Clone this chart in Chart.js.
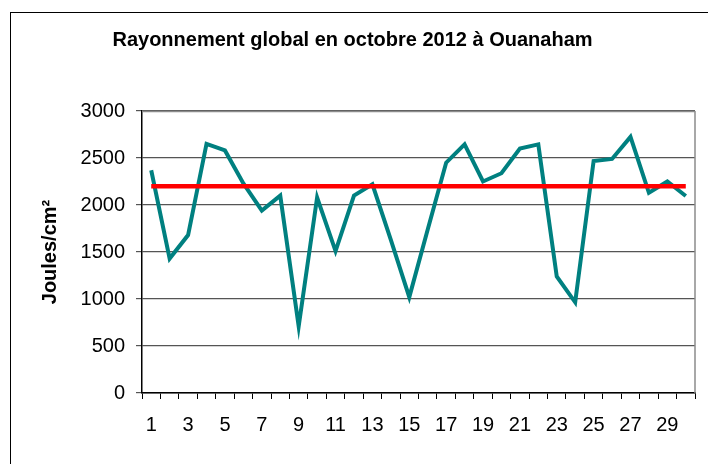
<!DOCTYPE html>
<html>
<head>
<meta charset="utf-8">
<script src="https://cdn.jsdelivr.net/npm/chart.js@4/dist/chart.umd.min.js"></script>
<style>
  body { margin: 0; background: #fff; }
  canvas { display: block; }
</style>
</head>
<body>
<canvas id="myChart" width="708" height="464"></canvas>
<script>
// jours d'octobre 2012
const jours = ['1','2','3','4','5','6','7','8','9','10','11','12','13','14','15',
               '16','17','18','19','20','21','22','23','24','25','26','27','28','29','30'];
// rayonnement global journalier (Joules/cm²)
const rayonnement = [2370, 1430, 1680, 2650, 2580, 2230, 1940, 2100, 710, 2080,
                     1510, 2100, 2220, 1630, 1020, 1740, 2450, 2645, 2250, 2338,
                     2600, 2645, 1240, 965, 2468, 2490, 2725, 2130, 2250, 2096];
// valeur de référence (ligne rouge)
const reference = jours.map(() => 2200);
const yTicks = [0, 500, 1000, 1500, 2000, 2500, 3000];

const fontFamily = '"Liberation Sans", Arial, sans-serif';

// cadre extérieur + bord droit de la zone de tracé
const framePlugin = {
    id: 'frame',
    beforeDraw(chart) {
        const c = chart.ctx;
        c.save();
        c.fillStyle = '#fff';
        c.fillRect(0, 0, chart.width, chart.height);
        c.strokeStyle = '#000';
        c.lineWidth = 1;
        c.strokeRect(10.5, 12.5, 760, 500);
        c.restore();
    },
    beforeDatasetsDraw(chart) {
        const a = chart.chartArea;
        const c = chart.ctx;
        c.save();
        c.strokeStyle = '#8c8c8c';
        c.lineWidth = 1.5;
        c.beginPath();
        c.moveTo(a.left, a.top + 0.5);
        c.lineTo(a.right, a.top + 0.5);
        c.moveTo(a.right, a.top);
        c.lineTo(a.right, a.bottom);
        c.stroke();
        c.restore();
    }
};

const ctx = document.getElementById('myChart').getContext('2d');
const myChart = new Chart(ctx, {
    type: 'line',
    data: {
        labels: jours,
        datasets: [{
            label: 'Référence',
            data: reference,
            borderColor: '#ff0000',
            borderWidth: 4.5,
            pointRadius: 0,
            tension: 0
        },
        {
            label: 'Rayonnement global',
            data: rayonnement,
            borderColor: '#008080',
            borderWidth: 4,
            pointRadius: 0,
            tension: 0
        }]
    },
    options: {
        responsive: false,
        animation: false,
        layout: {
            padding: { top: 12, left: 10, right: 13, bottom: 0 }
        },
        plugins: {
            legend: { display: false },
            tooltip: { enabled: false },
            title: {
                display: true,
                text: 'Rayonnement global en octobre 2012 à Ouanaham',
                color: '#000',
                font: { family: fontFamily, size: 20, weight: 'bold' },
                padding: { top: 16, bottom: 59 }
            }
        },
        scales: {
            x: {
                offset: true,
                grid: {
                    offset: true,
                    drawOnChartArea: false,
                    drawTicks: true,
                    tickLength: 6,
                    color: '#000'
                },
                border: { color: '#000', width: 1.5 },
                ticks: {
                    autoSkip: false,
                    maxRotation: 0,
                    padding: 14,
                    color: '#000',
                    font: { family: fontFamily, size: 20 },
                    callback: function(val, idx) {
                        return idx % 2 === 0 ? this.getLabelForValue(val) : '';
                    }
                },
                afterFit(axis) { axis.height = 71; }
            },
            y: {
                min: 0,
                max: 3000,
                afterBuildTicks(axis) {
                    axis.ticks = yTicks.map(v => ({ value: v }));
                },
                grid: {
                    color: '#555',
                    lineWidth: 1.2,
                    tickLength: 6
                },
                border: { color: '#000', width: 1.5 },
                ticks: {
                    padding: 11,
                    color: '#000',
                    font: { family: fontFamily, size: 20 },
                    callback: v => String(v)
                },
                title: {
                    display: true,
                    text: 'Joules/cm²',
                    color: '#000',
                    font: { family: fontFamily, size: 20, weight: 'bold' },
                    padding: { top: 28, bottom: 0 }
                },
                afterFit(axis) { axis.width = 132; }
            }
        }
    },
    plugins: [framePlugin]
});
</script>
</body>
</html>
